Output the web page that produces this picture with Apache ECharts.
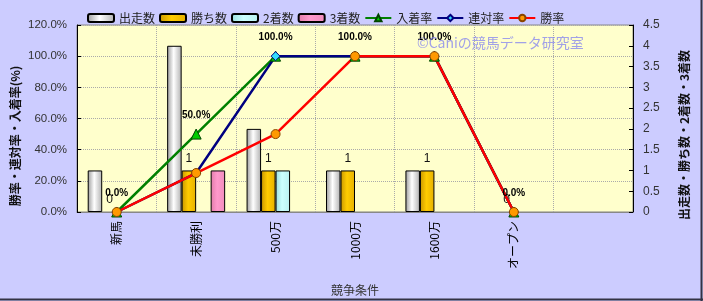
<!DOCTYPE html>
<html>
<head>
<meta charset="utf-8">
<script src="https://cdn.jsdelivr.net/npm/echarts@6/dist/echarts.min.js"></script>
<style>
html,body{margin:0;padding:0;background:#ccccff;}
#c{width:703px;height:301px;}
</style>
</head>
<body>
<div id="c"></div>
<script>
var categories = ['新馬', '未勝利', '500万', '1000万', '1600万', 'オープン', ''];
var starts = [1, 4, 2, 1, 1, 0, null];
var wins = [0, 1, 1, 1, 1, 0, null];
var seconds = [0, 0, 1, 0, 0, 0, null];
var thirds = [0, 1, 0, 0, 0, 0, null];
var placeRate = [0, 50, 100, 100, 100, 0, null];
var rentaiRate = [0, 25, 100, 100, 100, 0, null];
var winRate = [0, 25, 50, 100, 100, 0, null];
var leftTicks = {min: 0, max: 120, interval: 20};
var rightTicks = {min: 0, max: 4.5, interval: 0.5};

var FONT = '"Noto Sans CJK JP", "Liberation Sans", sans-serif';

function grad(c1, c2, c3) {
  return new echarts.graphic.LinearGradient(0, 0, 1, 0, [
    {offset: 0, color: c1}, {offset: 0.45, color: c2}, {offset: 1, color: c3}
  ]);
}
// zero-height bars: hide their outline, keep value (for labels)
function barData(arr) {
  return arr.map(function (v) {
    return v === 0 ? {value: 0, itemStyle: {borderColor: 'rgba(0,0,0,0)', color: 'rgba(0,0,0,0)'}} : v;
  });
}

var chart = echarts.init(document.getElementById('c'), null, {renderer: 'canvas'});
var barCommon = {
  type: 'bar', yAxisIndex: 1, barWidth: 14.5, barGap: '0%'
};
chart.setOption({
  animation: false,
  backgroundColor: '#ccccff',
  textStyle: {fontFamily: FONT},
  grid: {left: 77, right: 70, top: 25, bottom: 88, show: true,
         backgroundColor: '#ffffcc', borderColor: '#888', borderWidth: 1},
  legend: {
    left: 82, top: 7, itemWidth: 26, itemHeight: 8, itemGap: 4,
    textStyle: {fontSize: 12, color: '#222', fontFamily: FONT},
    data: ['出走数', '勝ち数', '2着数', '3着数', '入着率', '連対率', '勝率']
  },
  xAxis: {
    type: 'category', data: categories, boundaryGap: true,
    name: '競争条件', nameLocation: 'middle', nameGap: 72,
    nameTextStyle: {fontSize: 12, color: '#333', fontFamily: FONT},
    axisLine: {show: true, lineStyle: {color: '#888'}},
    axisTick: {show: false},
    axisLabel: {rotate: 90, margin: 9, fontSize: 12, color: '#000', fontFamily: FONT, interval: 0},
    splitLine: {show: true, interval: 0, lineStyle: {color: '#aaa', type: 'dotted'}}
  },
  yAxis: [
    {
      type: 'value', min: leftTicks.min, max: leftTicks.max, interval: leftTicks.interval,
      axisLine: {show: true, lineStyle: {color: '#000'}},
      axisTick: {show: true, inside: true, length: 4, lineStyle: {color: '#000'}},
      axisLabel: {fontSize: 11.5, color: '#333', margin: 10, fontFamily: '"Liberation Sans", sans-serif',
                  formatter: function (v) { return v.toFixed(1) + '%'; }},
      splitLine: {show: true, lineStyle: {color: '#aaa', type: 'dotted'}}
    },
    {
      type: 'value', min: rightTicks.min, max: rightTicks.max, interval: rightTicks.interval,
      axisLine: {show: true, lineStyle: {color: '#000'}},
      axisTick: {show: true, inside: true, length: 4, lineStyle: {color: '#000'}},
      axisLabel: {fontSize: 12, color: '#333', margin: 10, fontFamily: '"Liberation Sans", sans-serif',
                  formatter: function (v) { return String(v); }},
      splitLine: {show: false}
    }
  ],
  series: [
    Object.assign({}, barCommon, {name: '出走数', data: barData(starts),
      itemStyle: {borderColor: '#000', borderWidth: 1, color: grad('#9a9a9a', '#ffffff', '#b0b0b0')}}),
    Object.assign({}, barCommon, {name: '勝ち数', data: barData(wins),
      itemStyle: {borderColor: '#000', borderWidth: 1, color: grad('#c89600', '#ffcc00', '#e6b000')},
      label: {show: true, position: 'top', distance: 6, fontSize: 12, color: '#111',
              fontFamily: '"Liberation Sans", sans-serif'}}),
    Object.assign({}, barCommon, {name: '2着数', data: barData(seconds),
      itemStyle: {borderColor: '#000', borderWidth: 1, color: grad('#99dede', '#ccffff', '#b8f0f0')}}),
    Object.assign({}, barCommon, {name: '3着数', data: barData(thirds),
      itemStyle: {borderColor: '#000', borderWidth: 1, color: grad('#e07aa8', '#ff99cc', '#f08cbc')}}),
    {
      name: '入着率', type: 'line', yAxisIndex: 0, data: placeRate,
      symbol: 'triangle', symbolSize: 10,
      lineStyle: {color: '#008000', width: 2.5},
      itemStyle: {color: '#00cc00', borderColor: '#004400', borderWidth: 1},
      label: {show: true, position: 'top', distance: 8, fontSize: 10, fontWeight: 'bold', color: '#000',
              fontFamily: '"Liberation Sans", sans-serif',
              formatter: function (p) { return p.value.toFixed(1) + '%'; }}
    },
    {
      name: '連対率', type: 'line', yAxisIndex: 0, data: rentaiRate,
      symbol: 'diamond', symbolSize: 9,
      lineStyle: {color: '#000080', width: 2.5},
      itemStyle: {color: '#33ddff', borderColor: '#000080', borderWidth: 1}
    },
    {
      name: '勝率', type: 'line', yAxisIndex: 0, data: winRate,
      symbol: 'circle', symbolSize: 9,
      lineStyle: {color: '#ff0000', width: 2.5},
      itemStyle: {color: '#ff9900', borderColor: '#884400', borderWidth: 1}
    }
  ],
  graphic: [
    {type: 'text', x: 15, y: 136, rotation: Math.PI / 2,
     style: {text: '勝率・連対率・入着率(%)', font: 'bold 12px ' + FONT, fill: '#111',
             align: 'center', verticalAlign: 'middle'}},
    {type: 'text', x: 684, y: 135, rotation: Math.PI / 2,
     style: {text: '出走数・勝ち数・2着数・3着数', font: 'bold 12px ' + FONT, fill: '#111',
             align: 'center', verticalAlign: 'middle'}},
    {type: 'text', x: 417, y: 43, z: 100,
     style: {text: '©Caniの競馬データ研究室', font: '14px ' + FONT, fill: 'rgba(130,130,240,0.75)',
             align: 'left', verticalAlign: 'middle'}},
    {type: 'line', shape: {x1: 701.5, y1: 0, x2: 701.5, y2: 301}, style: {stroke: '#333344', lineWidth: 2}},
    {type: 'line', shape: {x1: 0, y1: 299.5, x2: 703, y2: 299.5}, style: {stroke: '#333344', lineWidth: 2}}
  ]
});
</script>
</body>
</html>
